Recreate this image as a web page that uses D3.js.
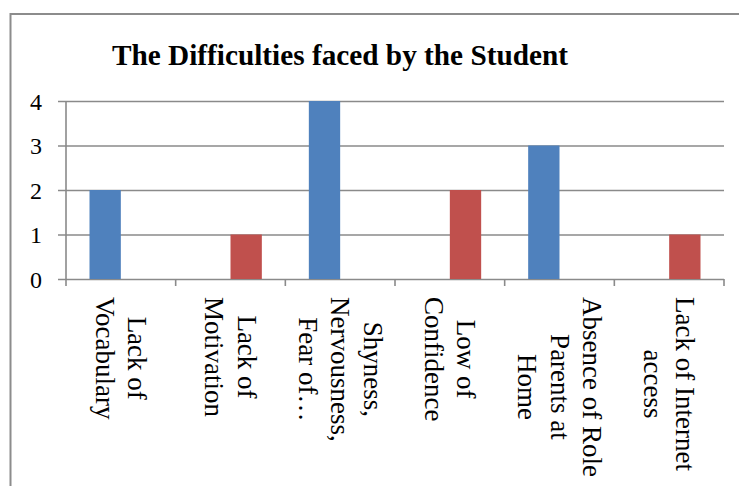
<!DOCTYPE html>
<html>
<head>
<meta charset="utf-8">
<script src="https://cdn.jsdelivr.net/npm/d3@7"></script>
<style>
  html, body { margin: 0; padding: 0; background: #fff; }
  svg { display: block; }
</style>
</head>
<body>
<svg id="chart" width="739" height="486"></svg>
<script>
// Difficulty categories (each entry is the label split into its wrapped lines)
const categories = [
  ["Lack of", "Vocabulary"],
  ["Lack of", "Motivation"],
  ["Shyness,", "Nervousness,", "Fear of…"],
  ["Low of", "Confidence"],
  ["Absence of Role", "Parents at", "Home"],
  ["Lack of Internet", "access"]
];
const seriesA = [2, 0, 4, 0, 3, 0];
const seriesB = [0, 1, 0, 2, 0, 1];
const yTicks = [0, 1, 2, 3, 4];
const title = "The Difficulties faced by the Student";

const colors = ["#4F81BD", "#C0504D"];
const gridColor = "#8a8a8a";
const serif = "'Liberation Serif', 'Times New Roman', serif";

const svg = d3.select("#chart");

// Outer frame
svg.append("rect")
  .attr("x", 10.5).attr("y", 14)
  .attr("width", 800).attr("height", 600)
  .attr("fill", "none")
  .attr("stroke", "#8c8c8c")
  .attr("stroke-width", 2);

// Title
svg.append("text")
  .attr("x", 112).attr("y", 65)
  .style("font-family", serif)
  .style("font-weight", "bold")
  .style("font-size", "29px")
  .attr("textLength", 456)
  .attr("lengthAdjust", "spacingAndGlyphs")
  .attr("fill", "#000")
  .text(title);

const plotLeft = 66, plotRight = 724, plotTop = 101, plotBottom = 279;

const x = d3.scaleBand()
  .domain(d3.range(categories.length))
  .range([plotLeft, plotRight])
  .paddingInner(0).paddingOuter(0);

const xInner = d3.scaleBand()
  .domain([0, 1])
  .range([0, x.bandwidth()])
  .paddingInner(0)
  .paddingOuter(0.75);

const y = d3.scaleLinear()
  .domain([0, 4])
  .range([plotBottom, plotTop]);

// Gridlines + y tick labels
const yAxis = d3.axisLeft(y)
  .tickValues(yTicks)
  .tickFormat(d3.format("d"))
  .tickSize(-(plotRight - 58))
  .tickPadding(16);

const gy = svg.append("g")
  .attr("transform", `translate(58,0)`)
  .call(yAxis)
  .attr("font-size", null)
  .attr("font-family", null);
gy.select(".domain").remove();
gy.selectAll(".tick line")
  .attr("stroke", gridColor)
  .attr("stroke-width", 1.6);
gy.selectAll(".tick text")
  .style("font-family", serif)
  .style("font-size", "24px")
  .attr("fill", "#000")
  .attr("dy", "0.34em");

// Vertical axis line
svg.append("line")
  .attr("x1", plotLeft).attr("x2", plotLeft)
  .attr("y1", plotTop).attr("y2", plotBottom + 7)
  .attr("stroke", gridColor)
  .attr("stroke-width", 1.6);

// Category boundary ticks
const bounds = d3.range(1, categories.length + 1).map(i => plotLeft + i * x.step());
svg.append("g").selectAll("line")
  .data(bounds)
  .join("line")
  .attr("x1", d => d).attr("x2", d => d)
  .attr("y1", plotBottom).attr("y2", plotBottom + 7)
  .attr("stroke", gridColor)
  .attr("stroke-width", 1.6);

// Bars
const series = [seriesA, seriesB];
series.forEach((vals, s) => {
  svg.append("g").selectAll("rect")
    .data(vals)
    .join("rect")
    .attr("x", (d, i) => x(i) + xInner(s))
    .attr("y", d => y(d))
    .attr("width", xInner.bandwidth())
    .attr("height", d => y(0) - y(d))
    .attr("fill", colors[s]);
});

// Rotated category labels (top-aligned block, lines centred on each other)
const lineGap = 32.5;
const labelTop = 297;
categories.forEach((lines, i) => {
  const cx = x(i) + x.bandwidth() / 2;
  const g = svg.append("g")
    .attr("transform", `translate(${cx},${labelTop}) rotate(90)`);
  const texts = g.selectAll("text")
    .data(lines)
    .join("text")
    .style("font-family", serif)
    .style("font-size", "27px")
    .attr("fill", "#000")
    .attr("text-anchor", "middle")
    .attr("dominant-baseline", "central")
    .attr("y", (d, j) => (j - (lines.length - 1) / 2) * lineGap)
    .text(d => d);
  let maxW = 0;
  texts.each(function () { maxW = Math.max(maxW, this.getComputedTextLength()); });
  texts.attr("x", maxW / 2);
});
</script>
</body>
</html>
